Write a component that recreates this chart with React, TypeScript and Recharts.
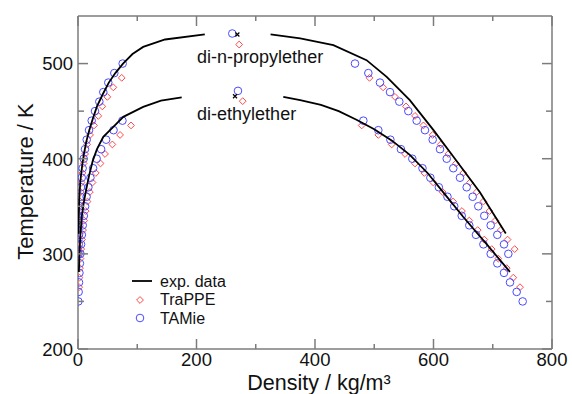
import React from 'react';
import { ComposedChart, Scatter, XAxis, YAxis, ReferenceDot } from 'recharts';

const FONT = '"Liberation Sans", Arial, sans-serif';
const AXIS_COLOR = '#7c7c7c';
const RED = '#ff4a4a';
const BLUE = '#4a4aff';

// ---- axes ----
const xTicks = [0, 100, 200, 300, 400, 500, 600, 700, 800];
const yTicks = [200, 250, 300, 350, 400, 450, 500];
const xMajor = [0, 200, 400, 600, 800];
const yMajor = [200, 300, 400, 500];

// ---- experimental curves [density, T] ----
const propylExpVap = [[0.7, 321], [1.3, 340], [2.3, 360], [3.8, 375], [5.5, 385], [7.5, 395], [10, 405], [14, 418], [19, 430], [25, 442], [32, 455], [42, 468], [52, 480], [63, 490], [76, 500], [92, 510], [110, 517.5], [147, 525.3], [214, 530.6]];
const propylExpLiq = [[325, 530.6], [375, 526.4], [431, 519.3], [487, 503.6], [521, 486], [560, 461.5], [600, 430], [633, 402.5], [678, 365], [722, 321.3]];
const ethylExpVap = [[1.5, 281], [2.5, 300], [4, 320], [6.5, 340], [10, 355], [14, 368], [19, 383], [25, 398], [32, 410], [42.7, 423], [59.6, 433.4], [76.5, 444], [110, 454.5], [140, 461], [175, 464.5]];
const ethylExpLiq = [[346.5, 465], [375, 461.5], [410, 456.5], [440, 450], [470, 441], [500, 431], [530, 419], [560, 404], [590, 385], [620, 362], [650, 339], [690, 310], [729, 281]];
const expCritical = [[269, 530.6], [265, 465.7]];

// ---- TAMie, di-n-propylether ----
const propylTamieT = [500, 490, 480, 470, 460, 450, 440, 430, 420, 410, 400, 390, 380, 370, 360, 350, 340, 330, 320, 310, 300];
const propylTamieLiq = [467.5, 490, 509.7, 526.6, 542.3, 557.5, 571.6, 585.6, 598.6, 611, 622.3, 633.4, 644.7, 656, 666.1, 675.6, 685.7, 696.5, 707.7, 719, 726.3];
const propylTamieVap = [75.4, 61.3, 51.1, 42.7, 36, 28.7, 23.1, 18.6, 14.7, 11.8, 9.6, 7.8, 6.3, 5.1, 4.1, 3.3, 2.6, 2.0, 1.6, 1.2, 0.9];
const propylTamieCrit = [260.4, 531.6];

// ---- TraPPE, di-n-propylether ----
const propylTrappeT = [485, 475, 465, 455, 445, 435, 425, 415, 405, 395, 385, 375, 365, 355, 345, 335, 325, 315, 305];
const propylTrappeLiq = [492, 515, 535, 553.6, 568.8, 583, 598.6, 612.2, 625, 638, 650.3, 661.6, 672.9, 684.1, 694.5, 704.5, 713.4, 725, 737];
const propylTrappeVap = [73.8, 59.6, 49.5, 41, 34.3, 27, 20.3, 15.5, 12, 9.5, 7.5, 6, 4.7, 3.7, 2.9, 2.2, 1.7, 1.3, 1.0];
const propylTrappeCrit = [272, 520];

// ---- TAMie, di-ethylether ----
const ethylTamieT = [440, 430, 420, 410, 400, 390, 380, 370, 360, 350, 340, 330, 320, 310, 300, 290, 280, 270, 260, 250];
const ethylTamieLiq = [481.6, 506.9, 527.2, 545, 564.2, 581.4, 594.7, 609, 623.6, 635, 647.6, 660.4, 671.7, 684.2, 696.5, 707.7, 719, 729.1, 740.4, 750.5];
const ethylTamieVap = [75, 60, 47.5, 39, 31.5, 25.5, 21, 17.5, 14.5, 12, 9.8, 8, 6.5, 5.2, 4.1, 3.2, 2.4, 1.7, 1.1, 0.6];
const ethylTamieCrit = [270, 471.3];

// ---- TraPPE, di-ethylether ----
const ethylTrappeT = [435, 425, 415, 405, 395, 385, 375, 365, 355, 345, 335, 325, 315, 305, 295, 285, 275, 265];
const ethylTrappeLiq = [478.8, 506.9, 529.4, 551.9, 568.8, 584.5, 599.7, 615.5, 633, 648, 660.4, 674.6, 685.7, 698.2, 709.4, 723.6, 734.7, 746];
const ethylTrappeVap = [89.5, 71, 58, 45.6, 38, 30, 24.5, 20, 16, 13, 10.5, 8.5, 6.8, 5.4, 4.2, 3.3, 2.5, 1.9];
const ethylTrappeCrit = [278, 460.5];

const pairs = (p: number[][]) => p.map(([x, y]) => ({ x, y }));
const zip = (t: number[], rho: number[]) => t.map((T, i) => ({ x: rho[i], y: T }));

const tamieData = [
  ...zip(propylTamieT, propylTamieLiq),
  ...zip(propylTamieT, propylTamieVap),
  ...zip(ethylTamieT, ethylTamieLiq),
  ...zip(ethylTamieT, ethylTamieVap),
  ...pairs([propylTamieCrit, ethylTamieCrit]),
];
const trappeData = [
  ...zip(propylTrappeT, propylTrappeLiq),
  ...zip(propylTrappeT, propylTrappeVap),
  ...zip(ethylTrappeT, ethylTrappeLiq),
  ...zip(ethylTrappeT, ethylTrappeVap),
  ...pairs([propylTrappeCrit, ethylTrappeCrit]),
];

const Circle = (p: any) => <circle cx={p.cx} cy={p.cy} r={3.8} fill="none" stroke={BLUE} strokeWidth={1} />;
const Diamond = (p: any) => {
  const s = 3.4;
  return <path d={`M${p.cx},${p.cy - s}L${p.cx + s},${p.cy}L${p.cx},${p.cy + s}L${p.cx - s},${p.cy}Z`} fill="none" stroke={RED} strokeWidth={1} />;
};
const Cross = (p: any) => {
  const s = 2;
  return <path d={`M${p.cx - s},${p.cy - s}L${p.cx + s},${p.cy + s}M${p.cx - s},${p.cy + s}L${p.cx + s},${p.cy - s}`} stroke="#000" strokeWidth={1.2} />;
};
const NoShape = () => <g />;

const makeTick = (side: 'bottom' | 'top' | 'left' | 'right') => (props: any) => {
  const { x, y, payload } = props;
  const v = payload.value;
  if (side === 'bottom' || side === 'top') {
    const len = xMajor.includes(v) ? 10 : 5;
    const dir = side === 'bottom' ? -1 : 1;
    return (
      <g>
        <line x1={x} y1={y} x2={x} y2={y + dir * len} stroke={AXIS_COLOR} strokeWidth={1.5} />
        {side === 'bottom' && xMajor.includes(v) && (
          <text x={x} y={y + 17} textAnchor="middle" fontFamily={FONT} fontSize={18.5} fill="#111">{v}</text>
        )}
      </g>
    );
  }
  const len = yMajor.includes(v) ? 10 : 6;
  const dir = side === 'left' ? 1 : -1;
  return (
    <g>
      <line x1={x} y1={y} x2={x + dir * len} y2={y} stroke={AXIS_COLOR} strokeWidth={1.5} />
      {side === 'left' && yMajor.includes(v) && (
        <text x={x - 5} y={y + 6.8} textAnchor="end" fontFamily={FONT} fontSize={18.5} fill="#111">{v}</text>
      )}
    </g>
  );
};

const annot = (text: string) => (props: any) => {
  const vb = props.viewBox || {};
  return (
    <text x={vb.x} y={vb.y} fontFamily={FONT} fontSize={18} fill="#111">{text}</text>
  );
};

const xLabel = (props: any) => {
  const vb = props.viewBox;
  return (
    <text x={vb.x + vb.width / 2 + 4} y={vb.y + 41} textAnchor="middle" fontFamily={FONT} fontSize={21.5} fill="#111">
      Density / kg/m³
    </text>
  );
};
const yLabel = (props: any) => {
  const vb = props.viewBox;
  const cx = vb.x + 32.5;
  const cy = vb.y + vb.height / 2 - 1;
  return (
    <text x={cx} y={cy} transform={`rotate(-90, ${cx}, ${cy})`} textAnchor="middle" fontFamily={FONT} fontSize={22} fill="#111">
      Temperature / K
    </text>
  );
};

const legendItems = ['exp. data', 'TraPPE', 'TAMie'];

export default function App() {
  const axisLine = { stroke: AXIS_COLOR, strokeWidth: 1.5 };
  return (
    <div style={{ position: 'absolute', left: 0, top: 0, width: 572, height: 394, background: '#fff' }}>
      <ComposedChart width={572} height={394} margin={{ top: 15, right: 19, bottom: 0, left: 0 }}>
        <XAxis xAxisId="b" type="number" dataKey="x" domain={[0, 800]} ticks={xTicks} interval={0}
          allowDataOverflow orientation="bottom" height={45} tickSize={0} tickMargin={0}
          axisLine={axisLine} tickLine={false} tick={makeTick('bottom')} label={{ content: xLabel }} />
        <XAxis xAxisId="t" type="number" dataKey="x" domain={[0, 800]} ticks={xTicks} interval={0}
          allowDataOverflow orientation="top" height={1} tickSize={0} tickMargin={0}
          axisLine={axisLine} tickLine={false} tick={makeTick('top')} />
        <YAxis yAxisId="l" type="number" dataKey="y" domain={[200, 550]} ticks={yTicks} interval={0}
          allowDataOverflow orientation="left" width={78} tickSize={0} tickMargin={0}
          axisLine={axisLine} tickLine={false} tick={makeTick('left')} label={{ content: yLabel }} />
        <YAxis yAxisId="r" type="number" dataKey="y" domain={[200, 550]} ticks={yTicks} interval={0}
          allowDataOverflow orientation="right" width={1} tickSize={0} tickMargin={0}
          axisLine={axisLine} tickLine={false} tick={makeTick('right')} />

        <Scatter name="TraPPE" xAxisId="b" yAxisId="l" data={trappeData} shape={Diamond} isAnimationActive={false} />
        <Scatter name="TAMie" xAxisId="b" yAxisId="l" data={tamieData} shape={Circle} isAnimationActive={false} />

        <Scatter name="exp. data" xAxisId="b" yAxisId="l" data={pairs(propylExpVap)} shape={NoShape} line={{ stroke: '#000', strokeWidth: 1.8 }} isAnimationActive={false} />
        <Scatter xAxisId="b" yAxisId="l" data={pairs(propylExpLiq)} shape={NoShape} line={{ stroke: '#000', strokeWidth: 1.8 }} isAnimationActive={false} />
        <Scatter xAxisId="b" yAxisId="l" data={pairs(ethylExpVap)} shape={NoShape} line={{ stroke: '#000', strokeWidth: 1.8 }} isAnimationActive={false} />
        <Scatter xAxisId="b" yAxisId="l" data={pairs(ethylExpLiq)} shape={NoShape} line={{ stroke: '#000', strokeWidth: 1.8 }} isAnimationActive={false} />
        <Scatter xAxisId="b" yAxisId="l" data={pairs(expCritical)} shape={Cross} isAnimationActive={false} />

        <ReferenceDot xAxisId="b" yAxisId="l" x={201} y={500.4} r={0} fill="none" stroke="none" label={{ content: annot('di-n-propylether') }} />
        <ReferenceDot xAxisId="b" yAxisId="l" x={201} y={440.5} r={0} fill="none" stroke="none" label={{ content: annot('di-ethylether') }} />
      </ComposedChart>
      <svg width={572} height={394} style={{ position: 'absolute', left: 0, top: 0, pointerEvents: 'none' }}>
        <line x1={132} y1={281} x2={152} y2={281} stroke="#000" strokeWidth={1.8} />
        <path d="M140,296.6L143.4,300L140,303.4L136.6,300Z" fill="none" stroke={RED} strokeWidth={1} />
        <circle cx={140} cy={318} r={3.8} fill="none" stroke={BLUE} strokeWidth={1} />
        {legendItems.map((t, i) => (
          <text key={t} x={160} y={286.5 + i * 18.5} fontFamily={FONT} fontSize={16} fill="#111">{t}</text>
        ))}
      </svg>
    </div>
  );
}
